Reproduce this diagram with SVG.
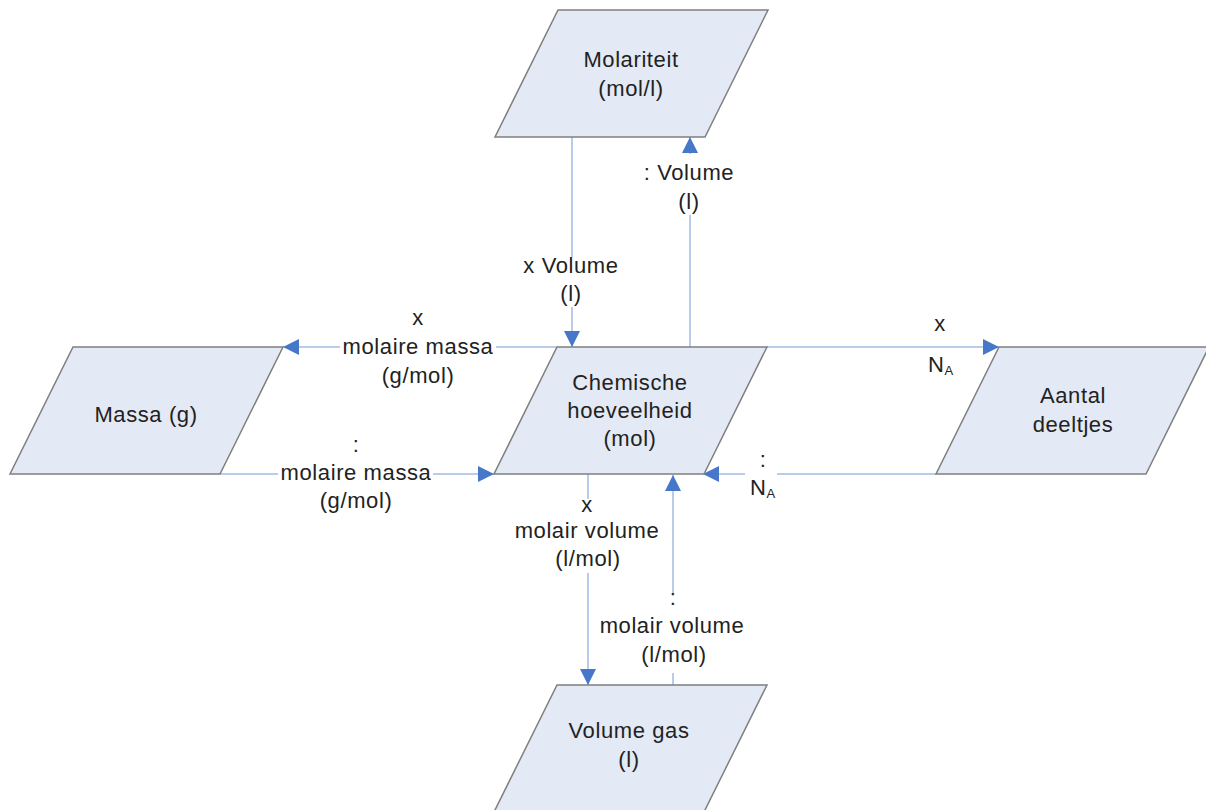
<svg xmlns="http://www.w3.org/2000/svg" width="1206" height="810" viewBox="0 0 1206 810">
<style>
.node{fill:#e3e9f5;stroke:#7f7f7f;stroke-width:1.5}
.t{font-family:"Liberation Sans",Arial,sans-serif;font-size:22px;letter-spacing:0.6px;fill:#222;text-anchor:middle}
.c{fill:none;stroke:#a3bbe0;stroke-width:1.5}
.bg{fill:#fff}
.sub{font-size:13px}
</style>
<defs>
<marker id="ah" markerUnits="userSpaceOnUse" markerWidth="16" markerHeight="16" refX="16" refY="8" orient="auto">
<path d="M0,0 L16,8 L0,16 z" fill="#4677c8"/>
</marker>
</defs>
<rect width="1206" height="810" fill="#fff"/>
<g id="connectors">
<path class="c" d="M572,137 V347" marker-end="url(#ah)"/>
<path class="c" d="M690,347 V137" marker-end="url(#ah)"/>
<path class="c" d="M557,347 H283" marker-end="url(#ah)"/>
<path class="c" d="M220,474 H494" marker-end="url(#ah)"/>
<path class="c" d="M767,347 H999" marker-end="url(#ah)"/>
<path class="c" d="M936,474 H703" marker-end="url(#ah)"/>
<path class="c" d="M588,474 V685" marker-end="url(#ah)"/>
<path class="c" d="M673,685 V475" marker-end="url(#ah)"/>
</g>
<g id="labels">
<rect class="bg" x="535" y="257" width="75" height="50"/>
<text class="t" x="571" y="273">x Volume</text>
<text class="t" x="571" y="301">(l)</text>
<rect class="bg" x="645" y="154" width="90" height="61"/>
<text class="t" x="689" y="180">: Volume</text>
<text class="t" x="689" y="209">(l)</text>
<rect class="bg" x="340" y="339" width="156" height="18"/>
<text class="t" x="418" y="325">x</text>
<text class="t" x="418" y="354">molaire massa</text>
<text class="t" x="418" y="383">(g/mol)</text>
<rect class="bg" x="278" y="466" width="155" height="16"/>
<text class="t" x="356" y="452">:</text>
<text class="t" x="356" y="480">molaire massa</text>
<text class="t" x="356" y="508">(g/mol)</text>
<text class="t" x="940" y="331">x</text>
<text class="t" x="941" y="372">N<tspan class="sub" dy="3">A</tspan></text>
<rect class="bg" x="745" y="466" width="32" height="16"/>
<text class="t" x="763" y="467">:</text>
<text class="t" x="763" y="495">N<tspan class="sub" dy="3">A</tspan></text>
<rect class="bg" x="570" y="499" width="36" height="74"/>
<text class="t" x="587" y="512">x</text>
<text class="t" x="587" y="538">molair volume</text>
<text class="t" x="588" y="566">(l/mol)</text>
<rect class="bg" x="655" y="593" width="36" height="80"/>
<text class="t" x="673" y="605">:</text>
<text class="t" x="672" y="633">molair volume</text>
<text class="t" x="674" y="662">(l/mol)</text>
</g>
<g id="molariteit">
<polygon class="node" points="558,10 768,10 705,137 495,137"/>
<text class="t" x="631" y="67">Molariteit</text>
<text class="t" x="631" y="96">(mol/l)</text>
</g>
<g id="massa">
<polygon class="node" points="73,347 283,347 220,474 10,474"/>
<text class="t" x="146" y="422">Massa (g)</text>
</g>
<g id="chemische">
<polygon class="node" points="557,347 767,347 704,474 494,474"/>
<text class="t" x="630" y="390">Chemische</text>
<text class="t" x="630" y="418">hoeveelheid</text>
<text class="t" x="630" y="446">(mol)</text>
</g>
<g id="aantal">
<polygon class="node" points="999,347 1209,347 1146,474 936,474"/>
<text class="t" x="1073" y="403">Aantal</text>
<text class="t" x="1073" y="432">deeltjes</text>
</g>
<g id="volumegas">
<polygon class="node" points="557,685 767,685 704,812 494,812"/>
<text class="t" x="629" y="738">Volume gas</text>
<text class="t" x="629" y="767">(l)</text>
</g>
</svg>
